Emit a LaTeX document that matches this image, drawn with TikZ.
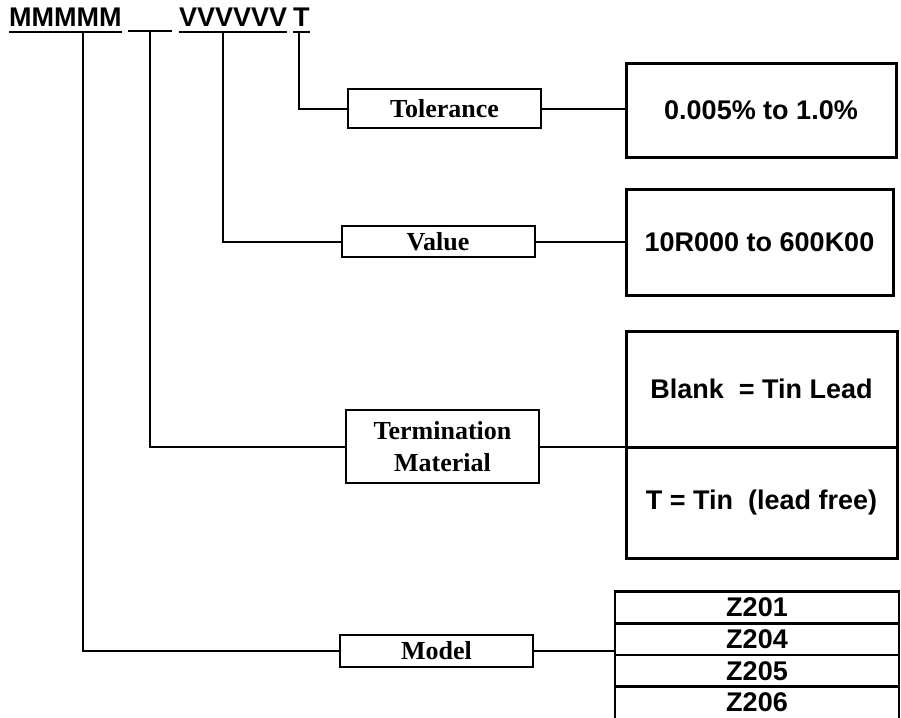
\documentclass[tikz,border=0pt]{standalone}
\usepackage{fontspec}
\setmainfont{Liberation Serif}
\setsansfont{Liberation Sans}
\begin{document}
\begin{tikzpicture}[x=1pt,y=-1pt,
  lbl/.style={draw, line width=2pt, minimum width=193pt, inner sep=0, align=center,
    font=\rmfamily\bfseries\fontsize{26}{32}\selectfont},
  big/.style={draw, line width=3pt, inner sep=0,
    font=\sffamily\bfseries\fontsize{27}{32}\selectfont},
  cell/.style={draw, line width=2.6pt, minimum width=284pt, minimum height=31.7pt, inner sep=0,
    font=\sffamily\bfseries\fontsize{27}{30}\selectfont},
  cellline/.style={line width=2.6pt},
  hdr/.style={font=\sffamily\bfseries\fontsize{27}{32}\selectfont, inner sep=0, anchor=base west},
  wire/.style={line width=2pt},
  ul/.style={line width=2.7pt}]
\useasboundingbox (0,0) rectangle (901,717);
\clip (0,0) rectangle (901,717);

% header
\node[hdr] (hM) at (9,27) {MMMMM};
\node[hdr] (hV) at (179,27) {VVVVVV};
\node[hdr] (hT) at (293,27) {T};
\draw[ul] ([yshift=-5pt]hM.base west) -- ([yshift=-5pt]hM.base east);
\draw[ul] ([yshift=-5pt]hV.base west) -- ([yshift=-5pt]hV.base east);
\draw[ul] ([yshift=-5pt]hT.base west) -- ([yshift=-5pt]hT.base east);
\draw[line width=1.4pt] (128,31) -- (172,31);

\coordinate (cM) at (83,32);
\coordinate (cB) at (150,31);
\coordinate (cV) at (223,32);
\coordinate (cT) at (298.5,32);

% label boxes
\node[lbl, minimum height=39pt] (tol) at (444.5,108.5) {Tolerance};
\node[lbl, minimum height=31pt] (val) at (438,241.5) {Value};
\node[lbl, minimum height=73pt] (term) at (442.5,446.5) {Termination\\Material};
\node[lbl, minimum height=32pt] (mod) at (436.5,651) {Model};

% value boxes
\node[big, minimum width=270pt, minimum height=94pt] (tolv) at (761,110) {0.005\% to 1.0\%};
\node[big, minimum width=267pt, minimum height=106pt] (valv) at (759.5,242) {10R000 to 600K00};
\node[big, minimum width=271pt, minimum height=116pt] (tm1) at (761.5,389) {Blank\ \ = Tin Lead};
\node[big, minimum width=271pt, minimum height=111pt] (tm2) at (761.5,502.5) {T = Tin\ \ (lead free)};

\node[cell] (z1) at (757,607.5) {Z201};
\node[cell] (z2) at (757,639.2) {Z204};
\node[cell] (z3) at (757,670.9) {Z205};
\node[cell, draw=none, outer sep=0pt] (z4) at (757,702.6) {Z206};
\draw[cellline] ([yshift=-12pt]z4.south west) -- (z4.north west) -- (z4.north east) -- ([yshift=-12pt]z4.south east);

% connectors
\draw[wire] (cT) |- (tol.west);
\draw[wire] (tol.east) -- (tol.east -| tolv.west);
\draw[wire] (cV) |- (val.west);
\draw[wire] (val.east) -- (val.east -| valv.west);
\draw[wire] (cB) |- (term.west);
\draw[wire] (term.east) -- (term.east -| tm1.west);
\draw[wire] (cM) |- (mod.west);
\draw[wire] (mod.east) -- (mod.east -| z1.west);
\end{tikzpicture}
\end{document}
